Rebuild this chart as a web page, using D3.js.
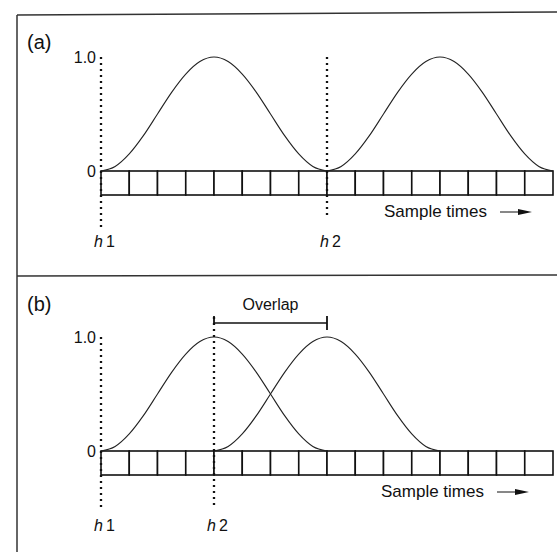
<!DOCTYPE html>
<html>
<head>
<meta charset="utf-8">
<script src="https://cdn.jsdelivr.net/npm/d3@7"></script>
<style>
  body { margin: 0; background: #fff; }
  svg { display: block; font-family: "Liberation Sans", Arial, sans-serif; }
  .frame { stroke: #333; stroke-width: 1.5; fill: none; }
  .cell { fill: #fff; stroke: #111; stroke-width: 1.6; }
  .pulse { fill: none; stroke: #222; stroke-width: 1.1; }
  .marker { stroke: #111; stroke-width: 2.3; stroke-dasharray: 2,4; }
  .lbl { fill: #111; }
</style>
</head>
<body>
<svg id="chart" width="557" height="554"></svg>
<script>
// sample cells along the time row
let cells = d3.range(16);

// pulse shape, at half-cell steps over 8 cells
let pulseShape = [0, 0.04, 0.15, 0.31, 0.5, 0.69, 0.85, 0.96, 1,
                  0.96, 0.85, 0.69, 0.5, 0.31, 0.15, 0.04, 0];

// where each pulse starts (in cells) for the two panels
let pulsesA = [0, 8];
let pulsesB = [0, 4];

// marker positions h1 / h2
let markersA = [{name: "1", at: 0}, {name: "2", at: 8}];
let markersB = [{name: "1", at: 0}, {name: "2", at: 4}];

let yTicks = [0, 1];
let yTickLabels = ["0", "1.0"];

let panels = [
  {label: "(a)", top: 14, base: 171, sampleX: 384, pulses: pulsesA, markers: markersA, overlap: null},
  {label: "(b)", top: 276, base: 451, sampleX: 381, pulses: pulsesB, markers: markersB, overlap: [4, 8]}
];

let svg = d3.select("#chart");

// x scale - cell index
let x = d3.scaleLinear()
  .domain([0, 16])
  .range([101, 553]);

// frame lines (top, left, separator)
svg.append("line").attr("class", "frame")
  .attr("x1", 17).attr("y1", 15).attr("x2", 557).attr("y2", 12);
svg.append("line").attr("class", "frame")
  .attr("x1", 17).attr("y1", 15).attr("x2", 17).attr("y2", 552);
svg.append("line").attr("class", "frame")
  .attr("x1", 17).attr("y1", 276).attr("x2", 557).attr("y2", 275);

panels.forEach(function(p) {
  let y = d3.scaleLinear()
    .domain([0, 1])
    .range([p.base, p.base - 114]);

  let g = svg.append("g");

  g.append("text")
    .attr("class", "lbl")
    .attr("x", 27)
    .attr("y", p.top + 35)
    .style("font-size", "20px")
    .text(p.label);

  // y labels 0 and 1.0
  let yAxis = d3.axisLeft(y)
    .tickValues(yTicks)
    .tickFormat((d, i) => yTickLabels[i])
    .tickSize(0)
    .tickPadding(5);

  g.append("g")
    .attr("transform", "translate(" + x(0) + ",0)")
    .call(yAxis)
    .call(a => a.select(".domain").remove())
    .selectAll("text")
      .attr("fill", "#111")
      .style("font-size", "16px")
      .style("font-family", "'Liberation Sans', Arial, sans-serif");

  // row of sample cells
  g.selectAll(".cell")
    .data(cells)
  .enter().append("rect")
    .attr("class", "cell")
    .attr("x", d => x(d))
    .attr("y", y(0))
    .attr("width", x(1) - x(0))
    .attr("height", 24);

  // pulses
  let line = d3.line()
    .x((d, i) => x(i / 2))
    .y(d => y(d))
    .curve(d3.curveMonotoneX);

  g.selectAll(".pulse")
    .data(p.pulses)
  .enter().append("path")
    .attr("class", "pulse")
    .attr("transform", d => "translate(" + (x(d) - x(0)) + ",0)")
    .attr("d", line(pulseShape));

  // dotted markers h1, h2
  p.markers.forEach(function(m, i) {
    let top = (p.overlap && i == 1) ? y(1) - 20 : y(1);
    let bottom = p.base + ((i == 0 || p.overlap) ? 56 : 47);
    g.append("line")
      .attr("class", "marker")
      .attr("x1", x(m.at)).attr("x2", x(m.at))
      .attr("y1", top).attr("y2", bottom);

    let t = g.append("text")
      .attr("class", "lbl")
      .attr("x", x(m.at) - 7)
      .attr("y", p.base + (p.overlap ? 80 : 76))
      .style("font-size", "16px");
    t.append("tspan").style("font-style", "italic").text("h");
    t.append("tspan").attr("dx", 3).text(m.name);
  });

  // overlap bracket
  if (p.overlap) {
    let by = y(1) - 14;
    g.append("line")
      .attr("stroke", "#111").attr("stroke-width", 1.5)
      .attr("x1", x(p.overlap[0])).attr("x2", x(p.overlap[1]))
      .attr("y1", by).attr("y2", by);
    g.append("line")
      .attr("stroke", "#111").attr("stroke-width", 1.8)
      .attr("x1", x(p.overlap[1])).attr("x2", x(p.overlap[1]))
      .attr("y1", by - 7).attr("y2", by + 7);
    g.append("line")
      .attr("stroke", "#111").attr("stroke-width", 1.8)
      .attr("x1", x(p.overlap[0])).attr("x2", x(p.overlap[0]))
      .attr("y1", by - 7).attr("y2", by + 1);
    g.append("text")
      .attr("class", "lbl")
      .attr("x", (x(p.overlap[0]) + x(p.overlap[1])) / 2)
      .attr("y", by - 13)
      .attr("text-anchor", "middle")
      .style("font-size", "16px")
      .text("Overlap");
  }

  // Sample times with arrow
  let sy = p.base + 46;
  g.append("text")
    .attr("class", "lbl")
    .attr("x", p.sampleX)
    .attr("y", sy)
    .style("font-size", "17px")
    .text("Sample times");
  let ax = p.sampleX + 116;
  g.append("line")
    .attr("stroke", "#111").attr("stroke-width", 1)
    .attr("x1", ax).attr("x2", ax + 24)
    .attr("y1", sy - 5).attr("y2", sy - 5);
  g.append("path")
    .attr("fill", "#111")
    .attr("d", "M" + (ax + 18) + "," + (sy - 8) + "L" + (ax + 32) + "," + (sy - 5) + "L" + (ax + 18) + "," + (sy - 2) + "Z");
});
</script>
</body>
</html>
